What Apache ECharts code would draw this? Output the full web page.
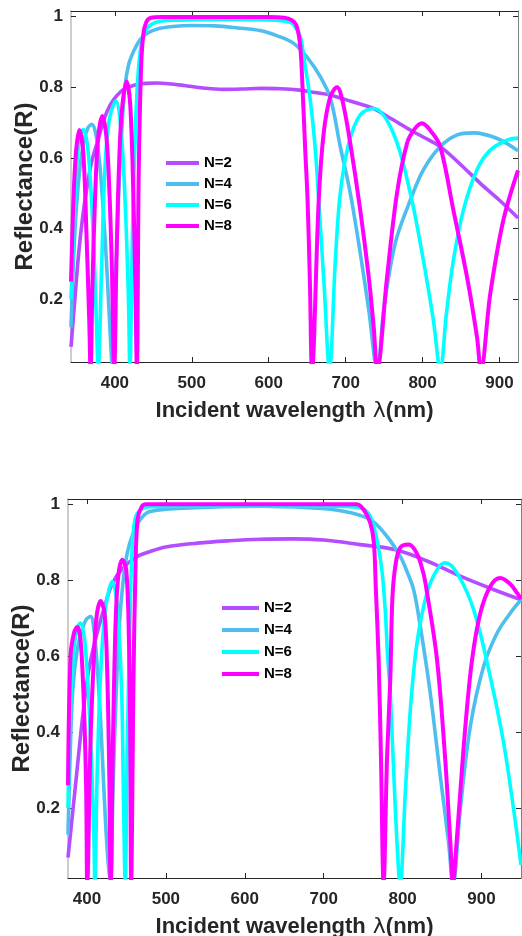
<!DOCTYPE html>
<html>
<head>
<meta charset="utf-8">
<script src="https://cdn.jsdelivr.net/npm/echarts@6/dist/echarts.min.js"></script>
<style>
  html, body { margin: 0; padding: 0; background: #fff; }
  #chart { width: 522px; height: 936px; }
</style>
</head>
<body>
<div id="chart"></div>
<script>
// series names and tick values
const seriesNames = ['N=2', 'N=4', 'N=6', 'N=8']
const yTicks = [0.2, 0.4, 0.6, 0.8, 1]
const xTicksTop = [400, 500, 600, 700, 800, 900]
const xTicksBottom = [400, 500, 600, 700, 800, 900]

// upper panel: [wavelength nm, reflectance]
const topN2 = [[343,0.065],[348,0.2],[353,0.33],[358,0.43],[364,0.52],[370,0.59],[378,0.65],[386,0.71],[394,0.75],[402,0.775],[412,0.795],[425,0.806],[440,0.811],[455,0.812],[470,0.81],[490,0.805],[515,0.798],[540,0.794],[565,0.795],[590,0.797],[615,0.796],[640,0.792],[660,0.785],[680,0.778],[700,0.765],[720,0.752],[736,0.74],[760,0.71],[784,0.679],[800,0.66],[823,0.632],[850,0.58],[875,0.528],[900,0.48],[924,0.43]]
const topN4 = [[343,0.12],[346,0.3],[350,0.46],[355,0.58],[360,0.65],[365,0.685],[370,0.695],[375,0.67],[380,0.59],[385,0.45],[390,0.27],[394,0.1],[397,0],[401,0.25],[405,0.5],[409,0.68],[413,0.8],[418,0.865],[425,0.905],[433,0.935],[442,0.953],[455,0.965],[475,0.972],[500,0.975],[530,0.974],[560,0.968],[590,0.96],[612,0.945],[632,0.925],[650,0.885],[667,0.83],[680,0.77],[693,0.632],[706,0.5],[719,0.33],[730,0.17],[741,0],[749.4,0.17],[758,0.29],[766.7,0.377],[784,0.48],[801,0.566],[823,0.632],[845,0.665],[866,0.671],[897,0.655],[924,0.62]]
const topN6 = [[343,0.2],[346,0.377],[350,0.566],[354.5,0.66],[359,0.681],[365.5,0.613],[372,0.377],[376,0.14],[378.4,0],[382.7,0.283],[387,0.566],[392.7,0.707],[401.3,0.761],[408.7,0.66],[414.3,0.424],[417.8,0.188],[419.5,0],[423,0.4],[427,0.7],[431,0.86],[436,0.94],[443,0.97],[455,0.985],[480,0.99],[550,0.992],[610,0.99],[625,0.985],[632,0.978],[641,0.943],[645.5,0.887],[654,0.764],[660.6,0.622],[665,0.48],[672,0.24],[679,0],[686.6,0.31],[693,0.5],[704,0.641],[719,0.722],[736.4,0.74],[762,0.67],[784,0.5],[801,0.31],[814,0.14],[823,0],[831,0.16],[840,0.31],[853,0.452],[870.6,0.566],[888,0.622],[909.6,0.65],[924,0.656]]
const topN8 = [[343,0.25],[346,0.47],[349.4,0.614],[353.8,0.679],[359,0.613],[363.2,0.377],[366.7,0.14],[368.4,0],[371,0.25],[374,0.47],[378,0.65],[383.6,0.719],[389,0.66],[393,0.5],[396,0.3],[399.2,0],[402,0.3],[405,0.55],[409,0.73],[415.2,0.816],[420,0.75],[424,0.5],[426.5,0.25],[428.6,0],[431,0.55],[434,0.85],[437,0.95],[441,0.985],[447,0.997],[460,0.999],[520,0.999],[600,0.999],[620,0.997],[630,0.99],[636,0.975],[641,0.915],[644.5,0.77],[647.5,0.62],[650.5,0.48],[653.5,0.25],[656.3,0],[665,0.48],[671.4,0.67],[680,0.773],[688.8,0.8],[696,0.76],[706,0.641],[719,0.452],[730,0.263],[736.4,0.122],[741,0],[753.8,0.263],[766.7,0.5],[779.7,0.641],[789,0.68],[799.2,0.698],[811,0.675],[823,0.632],[840,0.452],[857.7,0.263],[870.6,0.094],[875.8,0],[888,0.216],[905,0.424],[924,0.565]]

// lower panel
const botN2 = [[376,0.07],[385,0.25],[394,0.43],[402,0.56],[411,0.645],[421,0.72],[432,0.79],[445,0.83],[462,0.86],[480,0.875],[500,0.887],[540,0.897],[580,0.903],[620,0.907],[660,0.908],[700,0.905],[746,0.893],[790,0.88],[831,0.85],[873,0.81],[915,0.775],[950,0.748]]
const botN4 = [[376,0.13],[379,0.36],[382,0.51],[387.7,0.617],[394,0.669],[399,0.696],[404.6,0.704],[408.9,0.669],[413,0.573],[417.3,0.43],[421.5,0.248],[426,0.08],[430,0],[433,0.25],[437,0.5],[441,0.68],[446,0.8],[451,0.87],[458,0.92],[467.6,0.959],[480,0.98],[522,0.989],[620,0.994],[680,0.99],[725,0.981],[759,0.959],[780,0.915],[797,0.862],[805,0.825],[814,0.774],[822.4,0.678],[835,0.503],[847.8,0.283],[858.3,0.108],[863.8,0],[873,0.196],[885.8,0.415],[902.7,0.573],[919.6,0.66],[936.5,0.713],[950,0.748]]
const botN6 = [[376,0.2],[379.2,0.467],[383.5,0.617],[387.7,0.674],[391.9,0.687],[398.3,0.617],[404.6,0.38],[408.9,0.117],[410,0],[413,0.292],[417.3,0.555],[422.8,0.713],[427.9,0.774],[432,0.796],[438.4,0.73],[443.9,0.511],[446.5,0.2],[448.5,0],[451,0.35],[454,0.65],[457,0.87],[461,0.96],[468,0.985],[480,0.993],[520,0.995],[600,0.995],[700,0.995],[746,0.99],[759,0.967],[768,0.9],[774,0.82],[778,0.72],[781,0.6],[784.4,0.503],[790.8,0.196],[797,0],[803.4,0.24],[809.8,0.459],[818.2,0.634],[830.9,0.766],[843.6,0.827],[854,0.845],[869,0.818],[890,0.722],[911,0.546],[928,0.371],[940.7,0.196],[950,0.05]]
const botN8 = [[376,0.26],[379.2,0.6],[383.5,0.66],[387.7,0.676],[391.9,0.643],[396.2,0.467],[399,0.248],[400.4,0],[404.6,0.38],[408.9,0.6],[412.2,0.704],[417.3,0.745],[422.3,0.713],[425.7,0.555],[428.3,0.292],[430,0],[433,0.38],[436.3,0.687],[439.7,0.81],[444.7,0.853],[449.8,0.827],[453.2,0.643],[454.9,0.38],[456,0],[459,0.54],[461.2,0.8],[464.1,0.959],[469.7,0.994],[475,0.999],[600,0.999],[742,0.999],[750.6,0.985],[759,0.95],[763.5,0.9],[766,0.78],[769.6,0.59],[772.6,0.33],[775.9,0],[780.2,0.33],[784.4,0.54],[787,0.75],[791,0.84],[797,0.885],[807.6,0.893],[818,0.87],[826,0.82],[831,0.766],[843.6,0.59],[854,0.327],[860.5,0.108],[863.8,0],[868,0.1],[873,0.24],[879.5,0.415],[888,0.59],[898.5,0.713],[911,0.783],[923.8,0.805],[936,0.79],[945,0.766],[950,0.75]]

const colors = ['#b44cff', '#4dbeee', '#00ffff', '#ff00ff']
const font = 'Liberation Sans, Arial, sans-serif'
const tickColor = '#262626'

const makeAxes = (gridIndex, xMin, xMax, yMin, yMax, xTicks, leftColor) => {
  const xAxes = [
    {
      gridIndex, type: 'value', min: xMin, max: xMax, position: 'bottom',
      axisLine: { lineStyle: { color: tickColor, width: 1 } },
      axisTick: { inside: true, length: 5, customValues: xTicks, lineStyle: { color: tickColor } },
      axisLabel: { customValues: xTicks, margin: 13, color: tickColor, fontSize: 17, fontWeight: 'bold', fontFamily: font },
      splitLine: { show: false },
      name: '{b|Incident wavelength}{l| λ}{b|(nm)}',
      nameLocation: 'middle',
      nameGap: 38,
      nameMoveOverlap: false,
      nameTextStyle: {
        rich: {
          b: { fontSize: 22, fontWeight: 'bold', fontFamily: font, color: tickColor },
          l: { fontSize: 22, fontWeight: 'normal', fontFamily: 'DejaVu Sans', color: tickColor }
        }
      }
    },
    {
      gridIndex, type: 'value', min: xMin, max: xMax, position: 'top',
      axisLine: { lineStyle: { color: tickColor, width: 1 } },
      axisTick: { inside: true, length: 5, customValues: xTicks, lineStyle: { color: tickColor } },
      axisLabel: { show: false },
      splitLine: { show: false }
    }
  ]
  const yAxes = [
    {
      gridIndex, type: 'value', min: yMin, max: yMax, position: 'left',
      axisLine: { show: true, lineStyle: { color: leftColor, width: 1.5 } },
      axisTick: { inside: true, length: 5, customValues: yTicks, lineStyle: { color: tickColor } },
      axisLabel: {
        customValues: yTicks, margin: 8, color: tickColor, fontSize: 17, fontWeight: 'bold', fontFamily: font,
        formatter: v => (v === 1 ? '1' : v.toFixed(1))
      },
      splitLine: { show: false },
      name: 'Reflectance(R)',
      nameLocation: 'middle',
      nameGap: 34,
      nameMoveOverlap: false,
      nameTextStyle: { fontSize: 24, fontWeight: 'bold', fontFamily: font, color: tickColor }
    },
    {
      gridIndex, type: 'value', min: yMin, max: yMax, position: 'right',
      axisLine: { show: true, lineStyle: { color: '#808080', width: 1 } },
      axisTick: { inside: true, length: 5, customValues: yTicks, lineStyle: { color: tickColor } },
      axisLabel: { show: false },
      splitLine: { show: false }
    }
  ]
  return { xAxes, yAxes }
}

const topAxes = makeAxes(0, 343, 924, 0.022, 1.016, xTicksTop, '#bdbdbd')
const botAxes = makeAxes(1, 376, 950, 0.016, 1.013, xTicksBottom, '#bdbdbd')

const makeSeries = (datasets, xAxisIndex, yAxisIndex) =>
  datasets.map((data, i) => ({
    name: seriesNames[i],
    type: 'line',
    xAxisIndex,
    yAxisIndex,
    data,
    smooth: 0.35,
    symbol: 'none',
    clip: true,
    lineStyle: { color: colors[i], width: i === 3 ? 4 : 3.6 },
    itemStyle: { color: colors[i] },
    z: 2 + i
  }))

const legendText = { fontSize: 15, fontWeight: 'bold', fontFamily: font, color: '#000', lineHeight: 16 }

const chart = echarts.init(document.getElementById('chart'))

const option = {
  animation: false,
  backgroundColor: '#fff',
  grid: [
    { left: 71, top: 11, width: 447, height: 351, containLabel: false, outerBoundsMode: 'none' },
    { left: 68, top: 499, width: 453, height: 379, containLabel: false, outerBoundsMode: 'none' }
  ],
  legend: [
    {
      data: seriesNames, orient: 'vertical', left: 161, top: 150,
      icon: 'rect', itemWidth: 33, itemHeight: 4, itemGap: 5,
      textStyle: legendText
    },
    {
      data: seriesNames, orient: 'vertical', left: 217, top: 595,
      icon: 'rect', itemWidth: 37, itemHeight: 4, itemGap: 6,
      textStyle: legendText
    }
  ],
  xAxis: [...topAxes.xAxes, ...botAxes.xAxes],
  yAxis: [...topAxes.yAxes, ...botAxes.yAxes],
  series: [
    ...makeSeries([topN2, topN4, topN6, topN8], 0, 0),
    ...makeSeries([botN2, botN4, botN6, botN8], 2, 2)
  ]
}

chart.setOption(option)
</script>
</body>
</html>
